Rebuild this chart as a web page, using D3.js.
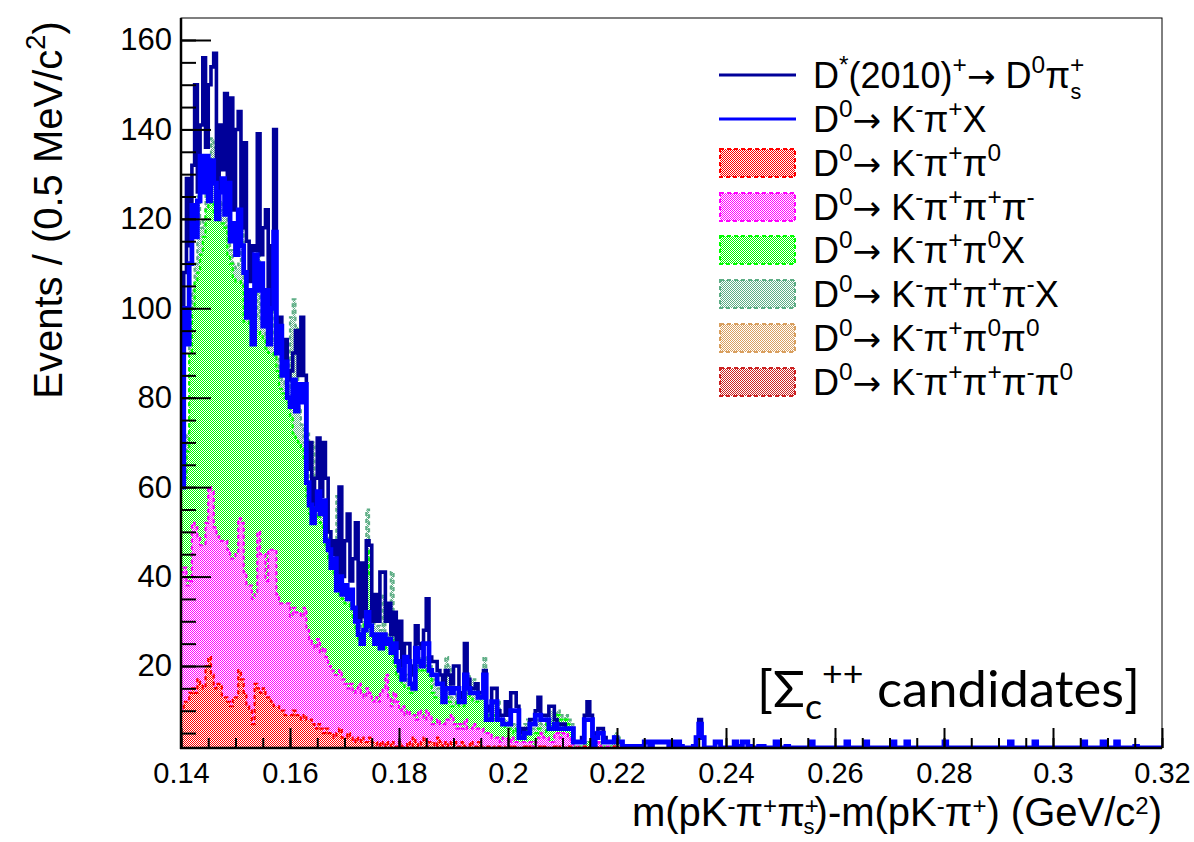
<!DOCTYPE html>
<html><head><meta charset="utf-8">
<script src="https://cdn.jsdelivr.net/npm/d3@7/dist/d3.min.js"></script>
<style>body{margin:0;background:#fff}svg{display:block}</style>
</head><body>
<svg id="c" width="1194" height="842"></svg>
<script>
// ---------------- data (events per 0.5 MeV bin, starting at 0.14 GeV) ----------------
const binLow = 0.14;
const binWidth = 0.0005;
const xTickValues = [0.14,0.16,0.18,0.20,0.22,0.24,0.26,0.28,0.30,0.32];
const xTickLabels = ["0.14","0.16","0.18","0.2","0.22","0.24","0.26","0.28","0.3","0.32"];
const yTickValues = [20,40,60,80,100,120,140,160];
const yTickLabels = ["20","40","60","80","100","120","140","160"];

// stacked (cumulative) heights of the hatched components, as displayed
const stackKpipi0 = [10,12,12,14,15,14,17,16,15,20,22,18,15,16,16,13,13,12,11,13,13,19,17,14,11,10,7,16,15,14,15,13,13,12,11,11,10,10,9,9,9,
10,9,9,8,9,8,8,7,6,7,6,5,6,5,5,4,5,6,4,4,5,4,3,4,3,4,3,3,4,3,3,2,3,2,3,2,3,2,2,3,2,2,
3,2,4,3,2,3,4,2,3,3,2,4,3,2,3,2,3,3,2,2,3,2,2,3,2,2,3,2,2,2,2,2,1,2,2,1,2,2,1,2,2,1,2,2,1,2,1,2,
2,1,2,2,1,2,2,1,2,1,2,2,1,1,2,1,1,2,2,1,1,1,2,1,1,1,1,1,2,1];
const stackKpipipipi = [41,42,38,39,52,51,49,47,47,52,60,59,51,49,48,48,48,46,44,44,45,53,52,41,38,38,35,36,50,45,45,39,46,46,46,36,34,34,34,34,31,33,32,
32,31,33,28,26,25,24,26,23,24,22,20,19,18,18,19,17,16,15,16,14,15,16,14,13,15,14,12,13,12,14,15,18,13,11,14,12,10,11,9,
10,9,9,8,10,9,8,10,9,7,7,8,7,7,8,8,9,7,6,7,6,8,6,6,7,6,6,6,5,5,5,4,4,4,3,4,4,3,4,3,3,3,3,3,3,3,2,3,
4,5,4,4,3,3,5,5,4,5,5,4,3,2,2,2,2,2,2,2,1,2,3,2,2,2,2,2,2,2];
const stackKpipi0X = [60,62,68,90,100,106,108,112,116,122,123,124,121,120,119,119,118,112,110,107,106,106,105,97,97,96,96,95,95,94,93,91,90,90,89,86,82,81,80,79,76,72,71,
70,69,66,58,54,53,53,54,52,51,47,44,42,40,37,36,35,34,34,33,30,28,26,25,30,46,40,27,26,26,25,25,24,24,27,20,18,17,16,15,
15,14,14,19,20,19,20,19,18,14,13,13,13,12,13,12,11,11,12,11,11,14,14,13,12,12,12,13,13,9,9,8,9,8,8,7,6,6,6,5,6,5,5,5,6,5,5,5,
6,5,5,7,8,8,8,9,8,7,8,7,6,2,2,2,2,3,3,3,2,3,3,2,2,2,2,2,4,3];
const stackKpipipipiX = [62,64,72,94,104,110,125,118,120,126,128,138,136,132,124,122,121,116,113,110,109,110,125,100,100,99,99,98,119,97,96,94,93,93,123,89,85,84,83,82,98,102,96,
78,74,70,72,58,70,57,57,55,54,50,47,45,44,58,40,38,37,37,36,33,31,29,28,33,55,44,30,29,29,28,36,27,27,41,23,21,20,19,18,
17,16,16,27,22,21,22,21,20,17,16,15,15,18,22,20,13,13,14,12,13,19,18,17,17,16,14,14,22,10,10,12,11,12,9,8,8,7,7,7,7,6,6,7,8,6,6,7,
8,7,7,9,10,10,9,10,9,8,9,8,7,2,2,2,2,3,3,3,2,3,3,2,2,2,2,3,5,4];
const stackKpipi0pi0 = [];      // no visible entries in the picture
const stackKpipipipipi0 = [];   // no visible entries in the picture

// line histograms
const d0KpiX = [60,100,92,110,123,116,124,134,126,134,124,133,128,120,126,129,121,128,115,119,112,122,114,108,98,104,92,112,104,110,96,104,92,100,117,90,96,85,88,80,78,84,77,
83,79,83,61,56,52,55,59,54,57,48,46,42,44,37,40,36,38,35,37,33,30,27,25,28,32,29,27,25,27,24,27,25,26,23,25,21,19,17,22,
21,16,15,24,21,20,25,25,19,18,18,16,16,12,15,15,14,15,15,12,12,18,15,14,14,14,13,13,18,8,8,12,12,8,8,7,7,7,10,10,10,4,4,5,5,7,7,9,
9,8,8,8,6,6,7,6,6,6,6,6,6,3,3,3,3,8,8,8,2,4,5,5,3,3,3,3,4,3,
3,2,2,2,2,2,2,2,2,3,3,2,3,3,3,3,3,3,2,3,2,3,2,1,1,1,1,2,4,7,4,1,1,1,1,3,3,1,1,1,1,1,3,2,1,3,3,2,1,1,1,2,2,0,0,0,0,3,0,0,0,2,
0,0,0,0,0,0,0,0,3,0,0,0,0,0,0,0,0,0,0,0,0,3,0,0,0,0,0,0,3,0,0,0,0,0,0,0,0,0,3,0,0,0,0,3,0,0,0,0,0,0,0,0,0,0,0,0,0,3,
0,0,0,0,0,0,0,0,0,0,0,0,0,0,0,0,0,0,0,0,0,0,0,3,0,0,0,0,0,0,0,0,3,0,0,0,0,0,0,0,0,0,0,0,0,0,0,0,0,0,3,0,0,0,0,0,0,3,0,0,0,0,3,0,0,0,0,0,0,2,0,0,0,0,0,0,0,0,0];
const dstarD0pis = [68,108,129,114,132,150,126,141,156,136,150,154,157,124,141,131,148,128,147,122,140,144,118,137,115,106,114,113,139,112,118,122,98,114,140,92,98,87,93,84,86,90,95,
85,98,85,64,70,56,62,71,58,70,62,50,45,48,40,60,40,48,54,39,44,52,30,43,31,48,47,30,36,30,41,41,30,34,27,32,24,30,20,25,
25,20,18,29,25,24,28,35,22,21,21,19,18,14,19,18,16,20,20,14,13,25,17,15,15,16,14,14,19,10,11,15,15,10,9,9,12,9,14,14,11,6,5,6,6,8,8,10,
13,9,9,9,11,11,8,7,7,7,6,6,6,3,3,3,4,9,12,9,2,5,6,6,4,3,3,3,4,3,
3,2,2,2,2,2,2,2,2,3,3,2,3,3,3,3,3,3,2,3,2,3,2,1,1,1,1,2,4,8,4,1,1,1,1,3,3,1,1,1,1,1,3,2,1,3,3,2,1,1,1,2,2,0,0,0,0,3,0,0,0,2,
0,0,0,0,0,0,0,0,3,0,0,0,0,0,0,0,0,0,0,0,0,3,0,0,0,0,0,0,3,0,0,0,0,0,0,0,0,0,3,0,0,0,0,3,0,0,0,0,0,0,0,0,0,0,0,0,0,3,
0,0,0,0,0,0,0,0,0,0,0,0,0,0,0,0,0,0,0,0,0,0,0,3,0,0,0,0,0,0,0,0,3,0,0,0,0,0,0,0,0,0,0,0,0,0,0,0,0,0,3,0,0,0,0,0,0,3,0,0,0,0,3,0,0,0,0,0,0,2,0,0,0,0,0,0,0,0,0];

// ---------------- drawing ----------------
const FONT = "'Liberation Sans', Arial, Helvetica, sans-serif";
const frame = {l:181, r:1162, t:18, b:748};
const yMin = 1.66, yMax = 164.92;
const x = d3.scaleLinear().domain([0.14,0.32]).range([frame.l, frame.r]);
const y = d3.scaleLinear().domain([yMin, yMax]).range([frame.b, frame.t]);

const svg = d3.select('#c');
svg.append('rect').attr('width',1194).attr('height',842).attr('fill','#fff');
const defs = svg.append('defs');
defs.append('clipPath').attr('id','clip').append('rect')
  .attr('x',frame.l).attr('y',frame.t).attr('width',frame.r-frame.l).attr('height',frame.b-frame.t);

const col = {navy:'#000099', blue:'#0000ff', red:'#ff0000', magenta:'#ff00ff', green:'#00ff00',
  teal:'#5fae86', orange:'#d9a060', pinkred:'#cc2222'};
function makePattern(id, color){
  const p = defs.append('pattern').attr('id',id).attr('patternUnits','userSpaceOnUse')
    .attr('width',2).attr('height',2).attr('shape-rendering','crispEdges');
  p.append('rect').attr('width',2).attr('height',2).attr('fill','#fff');
  p.append('rect').attr('x',0).attr('y',0).attr('width',1).attr('height',1).attr('fill',color);
  p.append('rect').attr('x',1).attr('y',1).attr('width',1).attr('height',1).attr('fill',color);
}
Object.keys(col).forEach(k => makePattern('pat-'+k, col[k]));

function binPoints(vals){
  const pts = vals.map((v,i)=>[binLow + i*binWidth, v]);
  if (vals.length) pts.push([binLow + vals.length*binWidth, vals[vals.length-1]]);
  return pts;
}
const yc = v => y(Math.max(v, yMin));
const area = d3.area().x(d=>x(d[0])).y0(y(yMin)).y1(d=>yc(d[1])).curve(d3.curveStepAfter);
const line = d3.line().x(d=>x(d[0])).y(d=>yc(d[1])).curve(d3.curveStepAfter);

const plot = svg.append('g').attr('clip-path','url(#clip)');

const stackSeries = [
  {vals: stackKpipipipipi0, c:'pinkred'},
  {vals: stackKpipi0pi0, c:'orange'},
  {vals: stackKpipipipiX, c:'teal'},
  {vals: stackKpipi0X, c:'green'},
  {vals: stackKpipipipi, c:'magenta'},
  {vals: stackKpipi0, c:'red'}
];
stackSeries.forEach(s => {
  if (!s.vals.length) return;
  const pts = binPoints(s.vals);
  plot.append('path').attr('d', area(pts)).attr('fill', `url(#pat-${s.c})`).attr('stroke','none');
  const outline = [[binLow, yMin], ...pts, [pts[pts.length-1][0], yMin]];
  plot.append('path').attr('d', line(outline)).attr('fill','none')
    .attr('stroke', col[s.c]).attr('stroke-width', 2.2).attr('stroke-dasharray','4,3');
});

plot.append('path').attr('d', line(binPoints(dstarD0pis))).attr('fill','none')
  .attr('stroke', col.navy).attr('stroke-width', 3.6);
plot.append('path').attr('d', line(binPoints(d0KpiX))).attr('fill','none')
  .attr('stroke', col.blue).attr('stroke-width', 4.8);

// frame
svg.append('rect').attr('x',frame.l).attr('y',frame.t).attr('width',frame.r-frame.l).attr('height',frame.b-frame.t)
  .attr('fill','none').attr('stroke','#000').attr('stroke-width',1);

// axes
const xMinor = d3.range(0.14, 0.3201, 0.005);
const yMinor = d3.range(5, 161, 5).filter(v => v >= yMin);
const xAxisMinor = d3.axisBottom(x).tickValues(xMinor).tickSize(-10).tickFormat('');
const xAxis = d3.axisBottom(x).tickValues(xTickValues).tickSize(-20).tickPadding(14)
  .tickFormat((d,i)=>xTickLabels[i]);
const yAxisMinor = d3.axisLeft(y).tickValues(yMinor).tickSize(-15).tickFormat('');
const yAxis = d3.axisLeft(y).tickValues(yTickValues).tickSize(-30).tickPadding(9)
  .tickFormat((d,i)=>yTickLabels[i]);

function styleAxis(g, fs){
  g.select('.domain').remove();
  g.selectAll('line').attr('stroke','#000').attr('stroke-width',2);
  g.selectAll('text').attr('font-family',FONT).attr('font-size',fs).attr('fill','#000');
}
svg.append('g').attr('transform',`translate(0,${frame.b})`).call(xAxisMinor).call(g=>styleAxis(g,29));
svg.append('g').attr('transform',`translate(0,${frame.b})`).call(xAxis).call(g=>styleAxis(g,29));
svg.append('g').attr('transform',`translate(${frame.l},0)`).call(yAxisMinor).call(g=>styleAxis(g,31));
svg.append('g').attr('transform',`translate(${frame.l},0)`).call(yAxis).call(g=>styleAxis(g,31));

svg.append('line').attr('x1',frame.l).attr('x2',frame.l).attr('y1',frame.t).attr('y2',frame.b+1)
  .attr('stroke','#000').attr('stroke-width',2.5);
svg.append('line').attr('x1',frame.l-1).attr('x2',frame.r).attr('y1',frame.b).attr('y2',frame.b)
  .attr('stroke','#000').attr('stroke-width',2.5);

// rich text helper
function rich(textSel, parts, fs, o = {}){
  const supShift = o.sup ?? 0.42, supSize = o.supSize ?? 0.68;
  const subUShift = o.subU ?? 0.3, subUSize = o.subUSize ?? 0.6;
  let cur = 0;
  parts.forEach(([t, m]) => {
    let target = 0, size = fs, dx = null, fam = null;
    if (m === 'sup') { target = -supShift*fs; size = supSize*fs; }
    else if (m === 'sub') { target = 0.24*fs; size = 0.68*fs; }
    else if (m === 'subU') { target = subUShift*fs; size = subUSize*fs; dx = -0.38*fs; }
    else if (m === 'arrow') { fam = "'DejaVu Sans', sans-serif"; size = 0.95*fs; }
    const ts = textSel.append('tspan').attr('dy', target - cur).attr('font-size', size).text(t);
    if (dx !== null) ts.attr('dx', dx);
    if (fam) ts.attr('font-family', fam);
    cur = target;
  });
}

// axis titles
const yt = svg.append('text').attr('transform','translate(62,210) rotate(-90)')
  .attr('text-anchor','middle').attr('font-family',FONT).attr('font-size',40).attr('fill','#000');
rich(yt, [["Events / (0.5 MeV/c","n"],["2","sup"],[")","n"]], 40);

const xt = svg.append('text').attr('x',1162).attr('y',826).attr('text-anchor','end')
  .attr('font-family',FONT).attr('font-size',40).attr('fill','#000');
rich(xt, [["m(pK","n"],["-","sup"],["π","n"],["+","sup"],["π","n"],["+","sup"],["s","subU"],[")-m(pK","n"],["-","sup"],["π","n"],["+","sup"],[") (GeV/c","n"],["2","sup"],[")","n"]], 40,
  {sup:0.3, supSize:0.6, subU:0.2, subUSize:0.55});

// legend
const ARROW = [["→","arrow"],[" K","n"]];
const legendEntries = [
  {type:'line', c:'navy', parts:[["D","n"],["*","sup"],["(2010)","n"],["+","sup"],["→","arrow"],[" D","n"],["0","sup"],["π","n"],["+","sup"],["s","subU"]]},
  {type:'line', c:'blue', parts:[["D","n"],["0","sup"],...ARROW,["-","sup"],["π","n"],["+","sup"],["X","n"]]},
  {type:'box', c:'red', parts:[["D","n"],["0","sup"],...ARROW,["-","sup"],["π","n"],["+","sup"],["π","n"],["0","sup"]]},
  {type:'box', c:'magenta', parts:[["D","n"],["0","sup"],...ARROW,["-","sup"],["π","n"],["+","sup"],["π","n"],["+","sup"],["π","n"],["-","sup"]]},
  {type:'box', c:'green', parts:[["D","n"],["0","sup"],...ARROW,["-","sup"],["π","n"],["+","sup"],["π","n"],["0","sup"],["X","n"]]},
  {type:'box', c:'teal', parts:[["D","n"],["0","sup"],...ARROW,["-","sup"],["π","n"],["+","sup"],["π","n"],["+","sup"],["π","n"],["-","sup"],["X","n"]]},
  {type:'box', c:'orange', parts:[["D","n"],["0","sup"],...ARROW,["-","sup"],["π","n"],["+","sup"],["π","n"],["0","sup"],["π","n"],["0","sup"]]},
  {type:'box', c:'pinkred', parts:[["D","n"],["0","sup"],...ARROW,["-","sup"],["π","n"],["+","sup"],["π","n"],["+","sup"],["π","n"],["-","sup"],["π","n"],["0","sup"]]}
];
const legendRowY = [75,119,163,207,250,294,338,382];
legendEntries.forEach((e,i) => {
  const cy = legendRowY[i];
  if (e.type === 'line') {
    svg.append('line').attr('x1',719).attr('x2',796).attr('y1',cy).attr('y2',cy)
      .attr('stroke',col[e.c]).attr('stroke-width',3);
  } else {
    svg.append('rect').attr('x',720).attr('y',cy-14).attr('width',75).attr('height',28)
      .attr('fill',`url(#pat-${e.c})`).attr('stroke',col[e.c]).attr('stroke-width',2)
      .attr('stroke-dasharray','4,3');
  }
  const t = svg.append('text').attr('x',813).attr('y',cy+13).attr('font-family',FONT)
    .attr('font-size',36).attr('fill','#000');
  rich(t, e.parts, 36);
});

// annotation
const ann = svg.append('text').attr('x',757).attr('y',707).attr('font-family',"Lato, 'Open Sans', sans-serif")
  .attr('font-size',50).attr('fill','#000').attr('textLength',383).attr('lengthAdjust','spacingAndGlyphs');
rich(ann, [["[Σ","n"],["c","sub"],["++","sup"],[" candidates]","n"]], 50);
</script>
</body></html>
